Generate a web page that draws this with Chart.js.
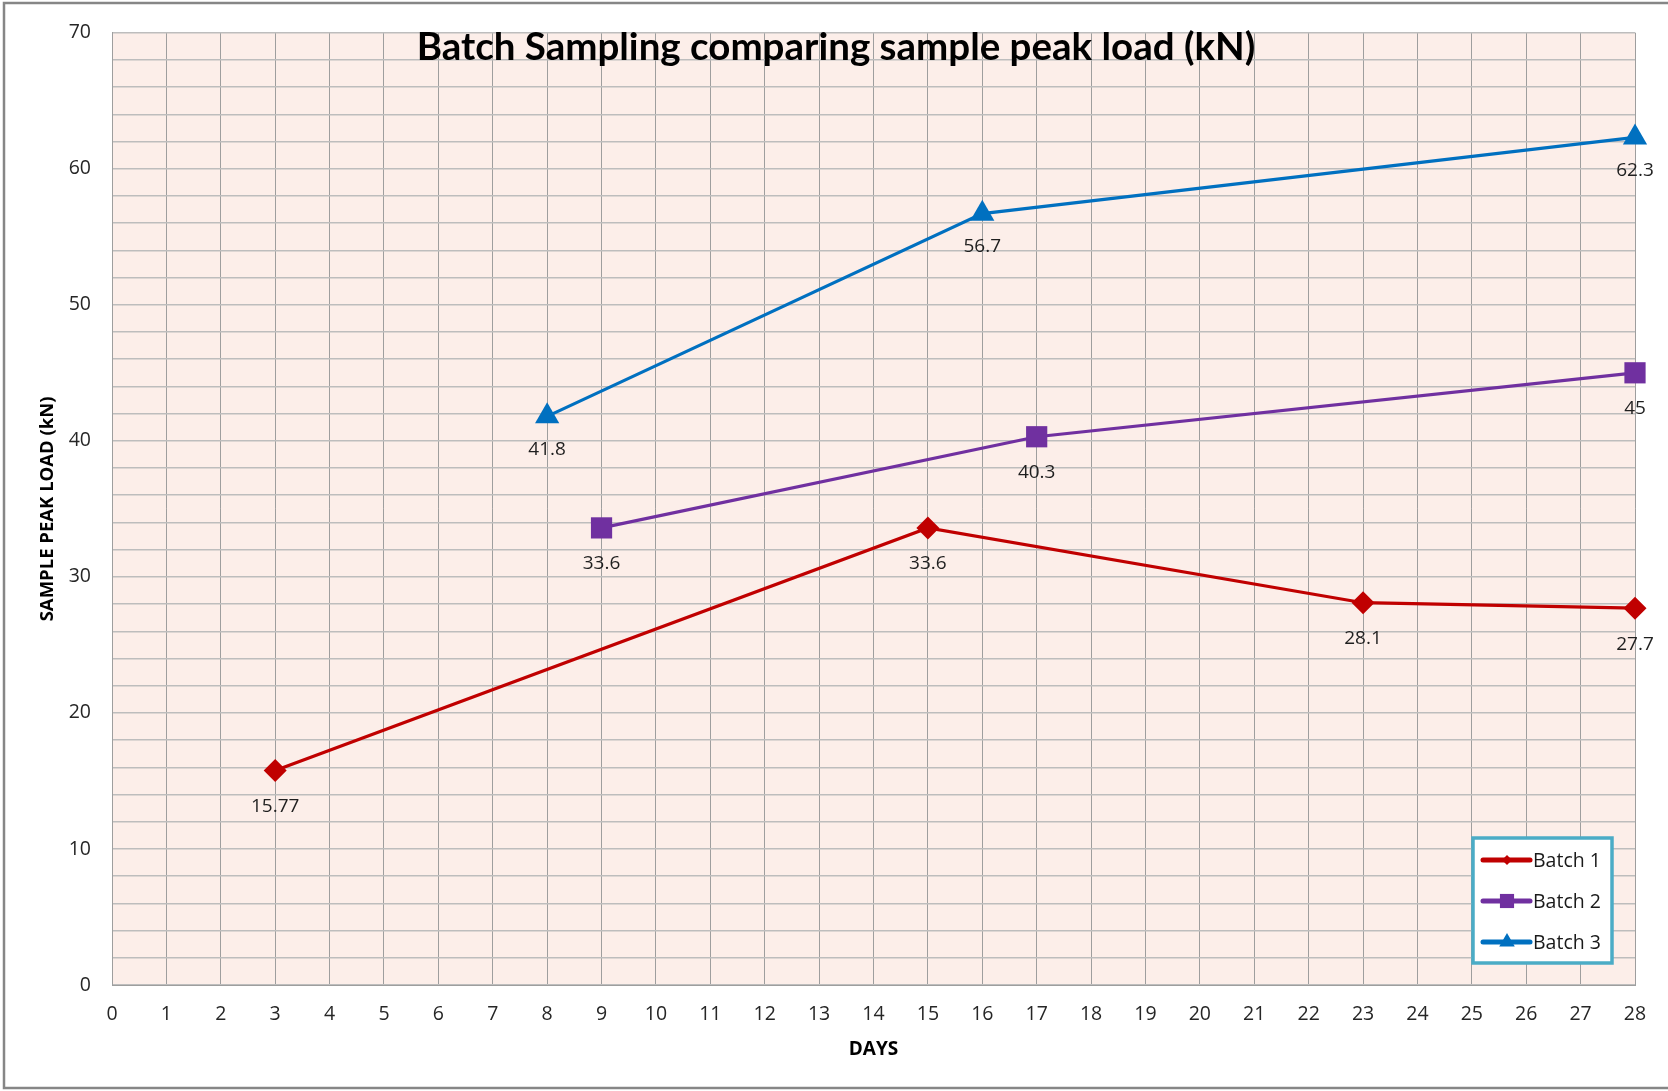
<!DOCTYPE html>
<html>
<head>
<meta charset="utf-8">
<script src="https://cdn.jsdelivr.net/npm/chart.js@4.4.0/dist/chart.umd.min.js"></script>
<style>
  html, body { margin: 0; padding: 0; background: #ffffff; }
  #wrap { width: 1668px; height: 1091px; position: relative; }
</style>
</head>
<body>
<div id="wrap"><canvas id="chartjs-0" width="1668" height="1091"></canvas></div>
<script>
// chart texts
var titleText = "Batch Sampling comparing sample peak load (kN)";
var xTitle = "DAYS";
var yTitle = "SAMPLE PEAK LOAD (kN)";
var seriesNames = ["Batch 1", "Batch 2", "Batch 3"];

// values
var batch1Days = [3, 15, 23, 28];
var batch1Load = [15.77, 33.6, 28.1, 27.7];
var batch2Days = [9, 17, 28];
var batch2Load = [33.6, 40.3, 45];
var batch3Days = [8, 16, 28];
var batch3Load = [41.8, 56.7, 62.3];

// axis ranges
var xMin = 0, xMax = 28, xStep = 1;
var yMin = 0, yMax = 70, yStep = 2, yLabelEvery = 10;

var seriesColors = ["#C00000", "#7030A0", "#0070C0"];
var markerShapes = ["rectRot", "rect", "triangle"];
var markerSizes = [11.5, 15, 14];
var labelOffsets = [36, 36, 33];
var baseFont = "'Open Sans', 'DejaVu Sans', sans-serif";

function toPoints(days, loads) {
  var pts = [];
  for (let i = 0; i < days.length; i++) {
    pts.push({ x: days[i], y: loads[i] });
  }
  return pts;
}

var allDays = [batch1Days, batch2Days, batch3Days];
var allLoads = [batch1Load, batch2Load, batch3Load];
var datasets = [];
for (let i = 0; i < seriesNames.length; i++) {
  datasets.push({
    label: seriesNames[i],
    data: toPoints(allDays[i], allLoads[i]),
    borderColor: seriesColors[i],
    backgroundColor: seriesColors[i],
    borderWidth: 3.2,
    pointStyle: markerShapes[i],
    pointRadius: markerSizes[i],
    pointHoverRadius: markerSizes[i],
    pointBorderWidth: 0,
    tension: 0,
    fill: false,
    clip: false
  });
}

/* plot background + outer frame */
var backdrop = {
  id: "backdrop",
  beforeDraw: function (chart) {
    var ctx = chart.ctx, a = chart.chartArea;
    ctx.save();
    ctx.fillStyle = "#ffffff";
    ctx.fillRect(0, 0, chart.width, chart.height);
    ctx.fillStyle = "#FCEEE9";
    ctx.fillRect(a.left, a.top, a.right - a.left, a.bottom - a.top);
    ctx.strokeStyle = "#868686";
    ctx.lineWidth = 2.5;
    ctx.strokeRect(4, 3, chart.width + 10, 1085);
    ctx.restore();
  }
};

/* value labels under each point, chart title inside the plot, legend box */
var extras = {
  id: "extras",
  afterDatasetsDraw: function (chart) {
    var ctx = chart.ctx, a = chart.chartArea;
    ctx.save();
    ctx.font = "19px " + baseFont;
    ctx.fillStyle = "#1f1f1f";
    ctx.textAlign = "center";
    ctx.textBaseline = "middle";
    chart.data.datasets.forEach(function (ds, i) {
      var meta = chart.getDatasetMeta(i);
      meta.data.forEach(function (pt, j) {
        ctx.fillText(String(ds.data[j].y), pt.x, pt.y + labelOffsets[i]);
      });
    });

    // title
    ctx.font = "bold 38.5px Lato, " + baseFont;
    ctx.fillStyle = "#000000";
    ctx.fillText(titleText, 836, 48);

    // legend
    var bx = a.right - 162, by = a.bottom - 147, bw = 139, bh = 125;
    ctx.fillStyle = "#ffffff";
    ctx.fillRect(bx, by, bw, bh);
    ctx.strokeStyle = "#4BACC6";
    ctx.lineWidth = 3.5;
    ctx.strokeRect(bx, by, bw, bh);
    ctx.textAlign = "left";
    ctx.font = "19.5px " + baseFont;
    var legendSizes = [5, 10, 9];
    for (let i = 0; i < seriesNames.length; i++) {
      var ly = by + 22 + i * 41;
      ctx.strokeStyle = seriesColors[i];
      ctx.lineWidth = 5;
      ctx.lineCap = "round";
      ctx.beginPath();
      ctx.moveTo(bx + 10, ly);
      ctx.lineTo(bx + 57, ly);
      ctx.stroke();
      ctx.fillStyle = seriesColors[i];
      Chart.helpers.drawPoint(ctx, { pointStyle: markerShapes[i], radius: legendSizes[i], borderWidth: 0 }, bx + 34, ly);
      ctx.fillStyle = "#1a1a1a";
      ctx.fillText(seriesNames[i], bx + 60, ly + 1);
    }
    ctx.restore();
  }
};

var ctx0 = document.getElementById("chartjs-0");
var myChart = new Chart(ctx0, {
  type: "line",
  data: { datasets: datasets },
  plugins: [backdrop, extras],
  options: {
    responsive: false,
    animation: false,
    devicePixelRatio: 1,
    layout: { padding: { top: 29, right: 33, left: 0, bottom: 0 } },
    plugins: {
      legend: { display: false },
      title: { display: false },
      tooltip: { enabled: false }
    },
    scales: {
      x: {
        type: "linear",
        min: xMin,
        max: xMax,
        ticks: {
          stepSize: xStep,
          padding: 18,
          color: "#262626",
          font: { size: 19.5, family: baseFont },
          maxRotation: 0,
          autoSkip: false
        },
        grid: { color: "#9E9E9E", lineWidth: 1, drawTicks: false },
        border: { color: "#9E9E9E", width: 1 },
        title: {
          display: true,
          text: xTitle,
          color: "#000000",
          font: { size: 19, weight: "bold", family: baseFont },
          padding: { top: 0, bottom: 30 }
        },
        afterFit: function (scale) { scale.height = 106; }
      },
      y: {
        type: "linear",
        min: yMin,
        max: yMax,
        ticks: {
          stepSize: yStep,
          padding: 21,
          color: "#262626",
          font: { size: 19.5, family: baseFont },
          autoSkip: false,
          callback: function (v) { return v % yLabelEvery === 0 ? String(v) : ""; }
        },
        grid: { color: "#BDBDBD", lineWidth: 1.5, drawTicks: false },
        border: { color: "#9E9E9E", width: 1 },
        title: {
          display: true,
          text: yTitle,
          color: "#000000",
          font: { size: 18.5, weight: "bold", family: baseFont },
          padding: { top: 37, bottom: 0 }
        },
        afterFit: function (scale) { scale.width = 112; }
      }
    }
  }
});
</script>
</body>
</html>
